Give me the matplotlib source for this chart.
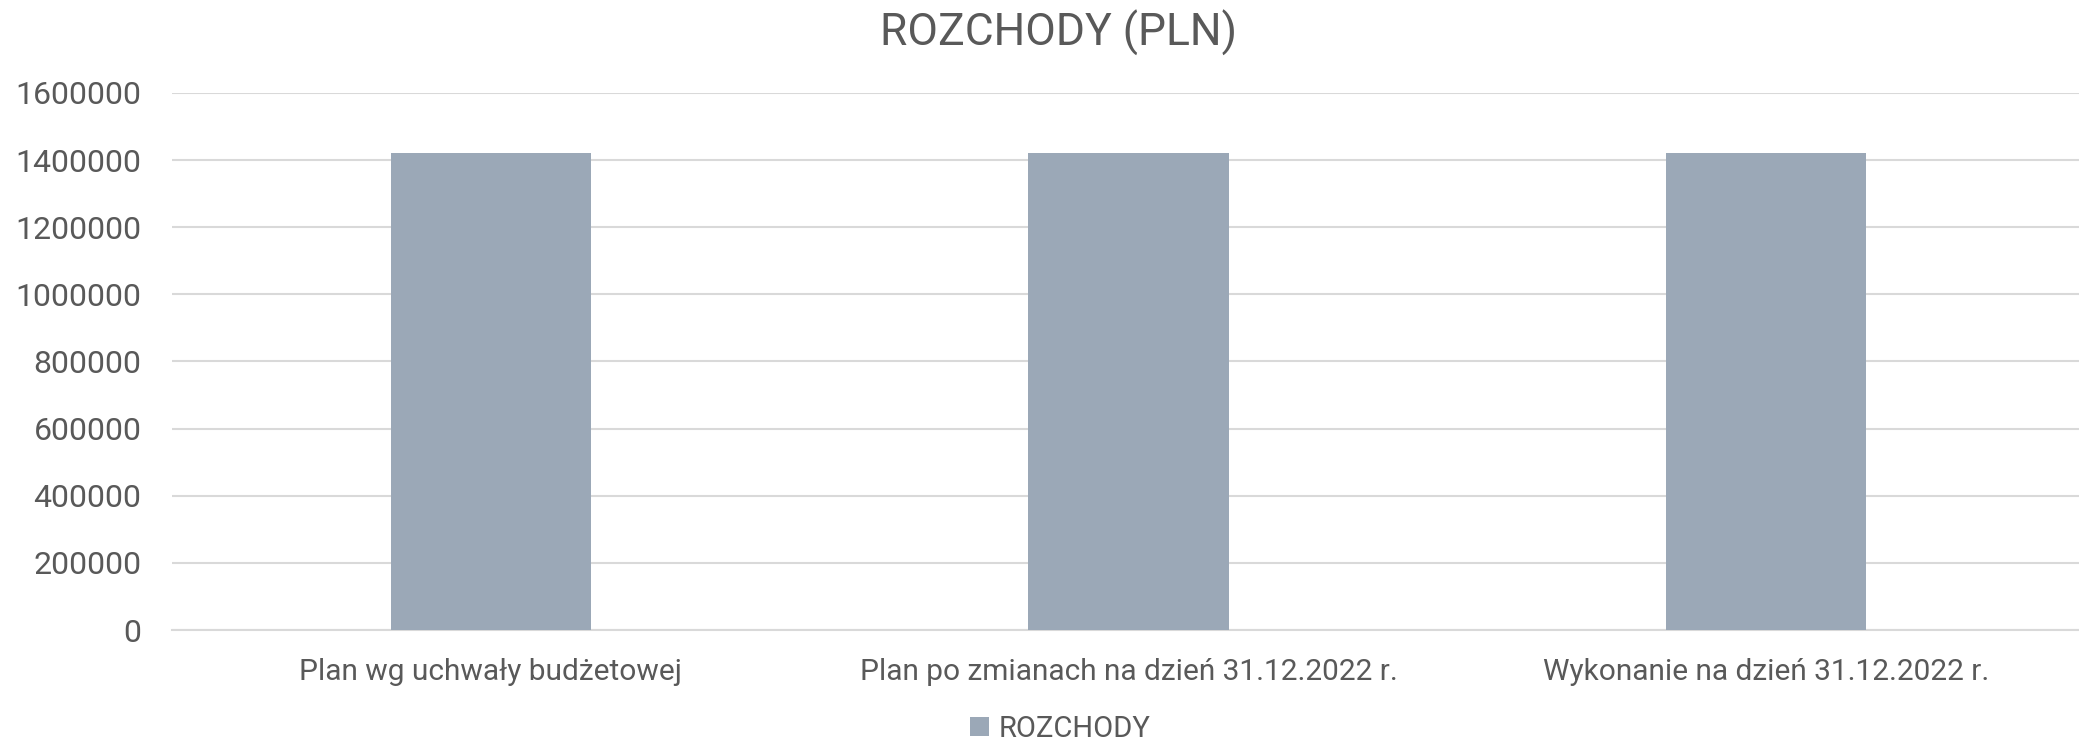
import numpy as np
import matplotlib.pyplot as plt

categories = ["Plan wg uchwały budżetowej",
              "Plan po zmianach na dzień 31.12.2022 r.",
              "Wykonanie na dzień 31.12.2022 r."]
rozchody = [1420000, 1420000, 1420000]
yticks = [0, 200000, 400000, 600000, 800000, 1000000, 1200000, 1400000, 1600000]

plt.rcParams['font.family'] = ['Roboto', 'DejaVu Sans']
grey = '#595959'
bar_color = '#9ba8b7'

fig = plt.figure(figsize=(20.79, 7.43), dpi=100)
ax = fig.add_axes([172/2079, 1 - 630/743, (2085-172)/2079, (630-93)/743])

x = np.arange(len(categories))
ax.bar(x, rozchody, width=0.314, color=bar_color, label='ROZCHODY', zorder=3)

ax.set_xlim(-0.5, len(categories) - 0.5)
ax.set_ylim(0, 1600000)
ax.set_yticks(yticks)
ax.set_yticklabels([str(v) for v in yticks])
ax.set_xticks(x)
ax.set_xticklabels(categories)
ax.tick_params(axis='both', length=0, labelcolor=grey)
ax.tick_params(axis='y', pad=22, labelsize=23)
ax.tick_params(axis='x', pad=20, labelsize=21.5)
ax.grid(axis='y', color='#d9d9d9', linewidth=1.5, zorder=0)
for s in ['top', 'right', 'left']:
    ax.spines[s].set_visible(False)
ax.spines['bottom'].set_color('#d9d9d9')
ax.spines['bottom'].set_linewidth(1.5)

fig.text(0.509, 1 - 33/743, 'ROZCHODY (PLN)', ha='center', va='center', fontsize=32, color=grey)
fig.legend(loc='center', bbox_to_anchor=(0.51, 1 - 729/743), frameon=False, fontsize=21,
           labelcolor=grey, handlelength=0.65, handleheight=0.65, handletextpad=0.3)

fig.savefig('out.png', dpi=100)
